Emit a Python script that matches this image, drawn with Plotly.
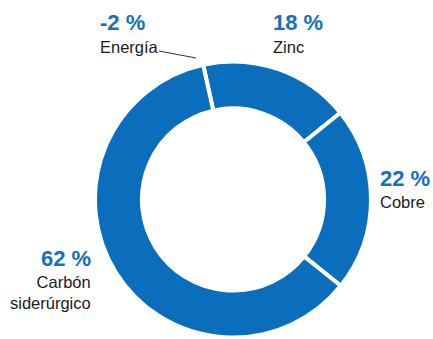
import plotly.graph_objects as go

W, H = 433, 339

categories = ["Energía", "Zinc", "Cobre", "Carbón<br>siderúrgico"]
shares = [-2, 18, 22, 62]
pct_labels = ["-2 %", "18 %", "22 %", "62 %"]

slice_color = "#0A6EBD"
text_blue = "#1570BD"

# negative share cannot be drawn as an area: it appears only as a separator
values = [max(v, 0) for v in shares]

fig = go.Figure(go.Pie(
    labels=categories,
    values=values,
    sort=False,
    direction="clockwise",
    rotation=-12.5,
    hole=0.66,
    marker=dict(colors=[slice_color] * len(values), line=dict(color="white", width=4)),
    textinfo="none",
    hoverinfo="label+value",
    showlegend=False,
    domain=dict(x=[95 / W, 371 / W], y=[1 - 338 / H, 1 - 61 / H]),
))

def px(x, y):
    return x / W, 1 - y / H

# label placement (pixel anchors)
label_pos = {
    "Energía": (98, 22, 47, "left"),
    "Zinc": (271, 22, 47, "left"),
    "Cobre": (378, 178, 202, "left"),
    "Carbón<br>siderúrgico": (93, 258, 292, "right"),
}

annotations = []
for cat, pl in zip(categories, pct_labels):
    x, ypct, ylab, anchor = label_pos[cat]
    ax, ay = px(x, ypct)
    annotations.append(dict(
        x=ax, y=ay, xref="paper", yref="paper", text="<b>" + pl + "</b>",
        showarrow=False, xanchor=anchor, yanchor="middle",
        font=dict(size=22, color=text_blue, family="Liberation Sans, Arial, sans-serif"),
    ))
    bx, by = px(x, ylab)
    annotations.append(dict(
        x=bx, y=by, xref="paper", yref="paper", text=cat,
        showarrow=False, xanchor=anchor, yanchor="middle", align=anchor,
        font=dict(size=16.5, color="#1a1a1a", family="Liberation Sans, Arial, sans-serif"),
    ))

x0, y0 = px(159, 51)
x1, y1 = px(196, 58)
shapes = [dict(type="line", xref="paper", yref="paper", x0=x0, y0=y0, x1=x1, y1=y1,
               line=dict(color="#333333", width=1))]

fig.update_layout(
    width=W, height=H,
    margin=dict(l=0, r=0, t=0, b=0),
    paper_bgcolor="white", plot_bgcolor="white",
    annotations=annotations, shapes=shapes,
)

fig.write_html("out.html")
